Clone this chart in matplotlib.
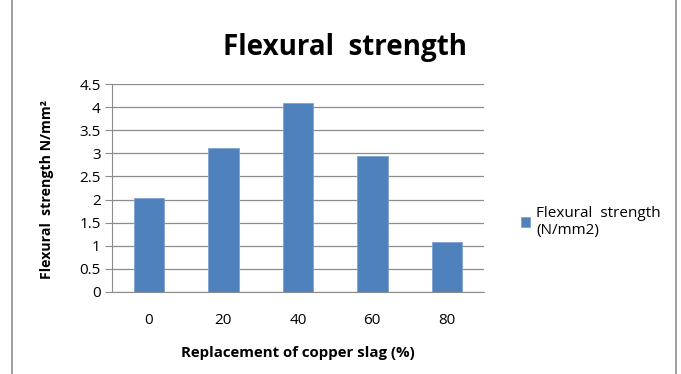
import matplotlib.pyplot as plt
from matplotlib.patches import Rectangle

categories = ['0', '20', '40', '60', '80']
strength = [2.03, 3.12, 4.09, 2.94, 1.07]
y_ticks = [0, 0.5, 1, 1.5, 2, 2.5, 3, 3.5, 4, 4.5]
y_labels = ['0', '0.5', '1', '1.5', '2', '2.5', '3', '3.5', '4', '4.5']

plt.rcParams['font.family'] = ['Open Sans', 'DejaVu Sans']

fig = plt.figure(figsize=(6.81, 3.74), dpi=100)
W, H = 681, 374
ax = fig.add_axes([111.7 / W, 1 - 291.7 / H, (484 - 111.7) / W, (291.7 - 84.3) / H])

x = range(len(categories))
ax.bar(x, strength, width=0.41, color='#4F81BD', edgecolor='#7FA3D0', linewidth=0.6,
       zorder=3, label='Flexural  strength\n(N/mm2)')

ax.set_xlim(-0.5, len(categories) - 0.5)
ax.set_ylim(0, 4.5)
ax.set_yticks(y_ticks)
ax.set_yticklabels(y_labels)
ax.set_xticks(list(x))
ax.set_xticklabels(categories)
ax.yaxis.grid(True, color='#8C8C8C', linewidth=0.9, zorder=0)
for s in ['top', 'right']:
    ax.spines[s].set_visible(False)
for s in ['left', 'bottom']:
    ax.spines[s].set_color('#8C8C8C')
ax.tick_params(axis='y', length=5, color='#8C8C8C', labelsize=11, pad=3)
ax.tick_params(axis='x', length=0, labelsize=11, pad=15)

fig.text(345 / W, 1 - 47 / H, 'Flexural  strength', ha='center', va='center',
         fontsize=20, fontweight='bold')
fig.text(47 / W, 1 - 189 / H, 'Flexural  strength N/mm²', rotation=90, ha='center',
         va='center', fontsize=10.2, fontweight='bold')
fig.text(298 / W, 1 - 353 / H, 'Replacement of copper slag (%)', ha='center', va='center',
         fontsize=10.8, fontweight='bold')

ax.legend(loc='center left', bbox_to_anchor=(507 / W, 1 - 222 / H),
          bbox_transform=fig.transFigure, frameon=False, fontsize=11,
          handlelength=0.6, handleheight=0.6, handletextpad=0.4)

fig.patches.append(Rectangle((12 / W, -0.01), (676 - 12) / W, 1.02,
                             transform=fig.transFigure, fill=False,
                             edgecolor='#8C8C8C', linewidth=1.2))

fig.savefig('out.png', dpi=100)
